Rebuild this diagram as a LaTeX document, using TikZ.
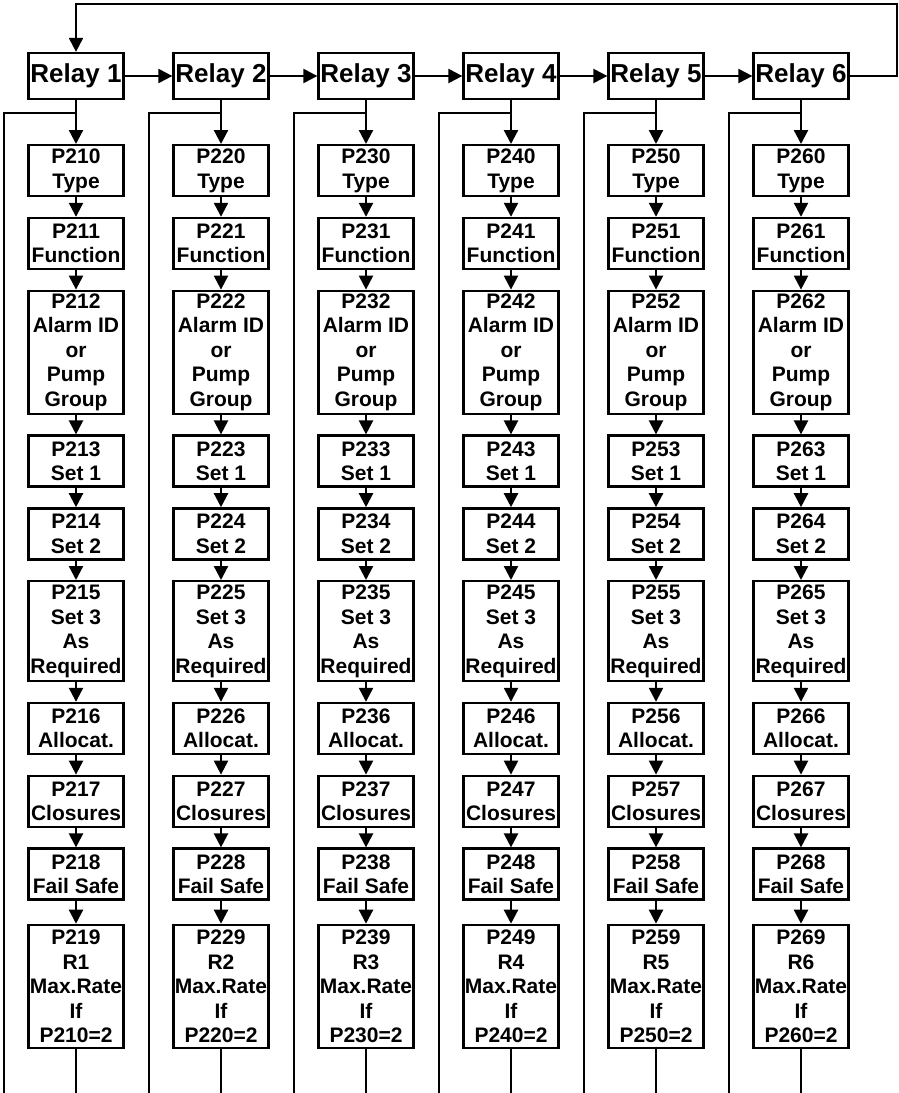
\documentclass[tikz,border=0pt]{standalone}
\usepackage{fontspec}
\setmainfont{Liberation Sans}
\usetikzlibrary{arrows.meta,positioning}

\begin{document}
\begin{tikzpicture}[x=1pt,y=1pt,line width=2.3pt,node distance=19.5pt,
  >={Triangle[length=14pt,width=14pt]},
  relaybox/.style={draw,minimum width=95pt,minimum height=46pt,inner sep=0pt,
    font=\bfseries\fontsize{26pt}{30pt}\selectfont},
  parbox/.style={draw,minimum width=95pt,inner sep=0pt,align=center,
    font=\bfseries\fontsize{21pt}{24.5pt}\selectfont},
  twoline/.style={parbox,minimum height=51pt},
  fourline/.style={parbox,minimum height=100pt},
  fiveline/.style={parbox,minimum height=123pt}]
\useasboundingbox (0,0) rectangle (899,-1093);
\foreach \i in {1,...,6}{
  \pgfmathtruncatemacro{\cx}{76+145*(\i-1)}
  \node[relaybox] (r\i) at (\cx,-76) {Relay \i};
  \node[twoline,anchor=north] (p\i0) at (\cx,-144) {P2\i0\\Type};
  \node[twoline,below=of p\i0] (p\i1) {P2\i1\\Function};
  \node[fiveline,below=of p\i1] (p\i2) {P2\i2\\Alarm ID\\or\\Pump\\Group};
  \node[twoline,below=of p\i2] (p\i3) {P2\i3\\Set 1};
  \node[twoline,below=of p\i3] (p\i4) {P2\i4\\Set 2};
  \node[fourline,below=of p\i4] (p\i5) {P2\i5\\Set 3\\As\\Required};
  \node[twoline,below=of p\i5] (p\i6) {P2\i6\\Allocat.};
  \node[twoline,below=of p\i6] (p\i7) {P2\i7\\Closures};
  \node[twoline,below=of p\i7] (p\i8) {P2\i8\\Fail Safe};
  \node[fiveline,below=23pt of p\i8] (p\i9) {P2\i9\\R\i\\Max.Rate\\If\\P2\i0=2};
  \draw[->] (r\i.south) -- (p\i0.north);
  \foreach \k [count=\j from 1] in {0,...,8}
    \draw[->] (p\i\k.south) -- (p\i\j.north);
  % return lines, cut off at the bottom edge
  \coordinate (j\i) at (\cx,-113);
  \coordinate (e\i) at (\cx-72,-1093);
  \coordinate (b\i) at (\cx,-1093);
  \draw (j\i) -| (e\i);
  \draw (p\i9.south) -- (b\i);
}
\foreach \i [count=\j from 2] in {1,...,5}
  \draw[->] (r\i.east) -- (r\j.west);
\coordinate (looptop) at (897,-4);
\draw[->] (r6.east) -| (looptop) -| (r1.north);
\end{tikzpicture}
\end{document}
